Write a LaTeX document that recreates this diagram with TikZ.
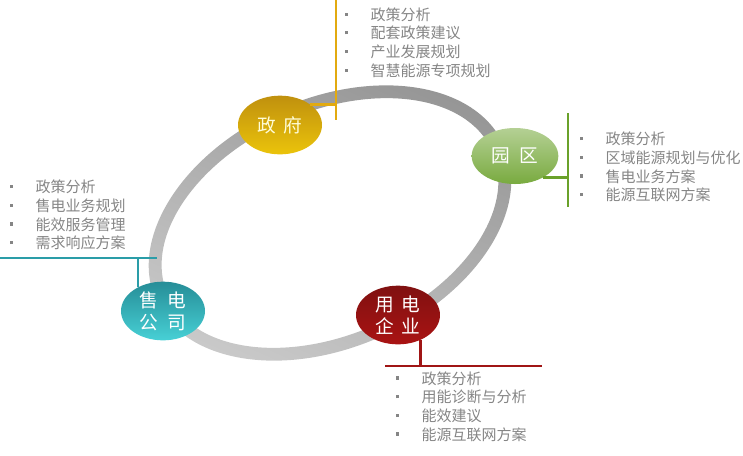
\documentclass[tikz,border=0pt]{standalone}
\usepackage{fontspec}
\newfontfamily\cjk{Noto Sans CJK SC}
\usetikzlibrary{positioning,shapes.geometric}

\definecolor{ringdark}{HTML}{959595}
\definecolor{ringlight}{HTML}{CACACA}
\definecolor{listgray}{HTML}{858585}
\definecolor{zfgold}{HTML}{E2AA10}
\definecolor{yqgreen}{HTML}{6AA12A}
\definecolor{sdteal}{HTML}{2A9DA8}
\definecolor{ydred}{HTML}{A01515}

\newcommand{\bul}[1]{\makebox[19pt][l]{\raisebox{0.3em}{\rule{2.4pt}{2.4pt}}}#1}

\tikzset{
    party/.style={ellipse, minimum width=63pt, minimum height=44pt, inner sep=0pt,
        text=white, align=center, font=\cjk\fontsize{14}{16.5}\selectfont},
    list/.style={anchor=west, inner sep=0pt, align=left, text=listgray,
        font=\cjk\fontsize{11.25}{14}\selectfont},
    bar/.style={line width=1.6pt}
}

\begin{document}
\begin{tikzpicture}[x=0.75pt,y=0.75pt]
    \useasboundingbox (0,0) rectangle (743,-455);
    % ring
    \shade[even odd rule, top color=ringdark, bottom color=ringlight, shading angle=-24,
        rotate around={24:(330,-223)}]
        (330,-223) ellipse [x radius=190.5, y radius=124.5]
        (330,-223) ellipse [x radius=177.5, y radius=111.5];
    % bars
    \coordinate (zfbar top) at (336,0);
    \coordinate (zfbar bot) at (336,-120);
    \coordinate (yqbar top) at (568,-113);
    \coordinate (yqbar bot) at (568,-207);
    \coordinate (sdbar l) at (0,-258);
    \coordinate (sdbar r) at (157,-258);
    \coordinate (ydbar l) at (385,-366);
    \coordinate (ydbar r) at (542,-366);
    \node[party, top color=zfgold!85!black, bottom color=zfgold!70!yellow, text=yellow!15] (zf) at (280,-125) {政\hspace{6pt}府};
    \node[party, top color=yqgreen!50!white, bottom color=yqgreen!90!white, minimum width=65pt, minimum height=42pt] (yq) at (515,-156) {园\hspace{7pt}区};
    \node[party, top color=sdteal!90!black, bottom color=sdteal!60!cyan!80!white] (sd) at (163,-311) {售\hspace{7pt}电\\公\hspace{7pt}司};
    \node[party, top color=ydred!80!black, bottom color=ydred!90!red] (yd) at (398,-315) {用\hspace{6pt}电\\企\hspace{6pt}业};
    \draw[bar, zfgold] (zfbar top) -- (zfbar bot);
    \draw[bar, zfgold] (zf.34) -- (zf.34 -| zfbar top);
    \draw[bar, yqgreen] (yqbar top) -- (yqbar bot);
    \draw[bar, yqgreen] (yq.-37) -- (yq.-37 -| yqbar top);
    \draw[bar, sdteal] (sdbar l) -- (sdbar r);
    \draw[bar, sdteal] (sd.137) -- (sd.137 |- sdbar l);
    \draw[bar, ydred, line width=2pt] (ydbar l) -- (ydbar r);
    \draw[bar, ydred, line width=2pt] (yd.-48) -- (yd.-48 |- ydbar l);
    % lists
    \node[list] (zflist) at (345,-42.5) {\bul{政策分析}\\\bul{配套政策建议}\\\bul{产业发展规划}\\\bul{智慧能源专项规划}};
    \node[list] (yqlist) at (580,-167) {\bul{政策分析}\\\bul{区域能源规划与优化}\\\bul{售电业务方案}\\\bul{能源互联网方案}};
    \node[list] (sdlist) at (10,-215) {\bul{政策分析}\\\bul{售电业务规划}\\\bul{能效服务管理}\\\bul{需求响应方案}};
    \node[list] (ydlist) at (396,-406.5) {\bul{政策分析}\\\bul{用能诊断与分析}\\\bul{能效建议}\\\bul{能源互联网方案}};
\end{tikzpicture}
\end{document}
